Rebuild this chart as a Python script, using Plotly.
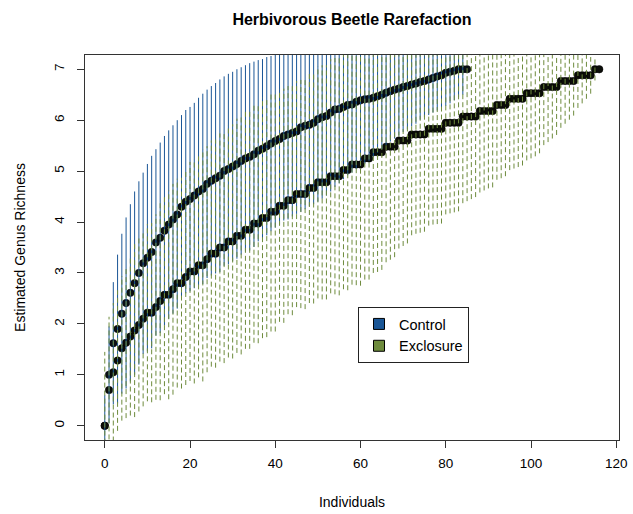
import plotly.graph_objects as go

# ---------------- data ----------------
ctrl_x = list(range(0, 86))
ctrl_y = [0.00, 1.00, 1.62, 1.90, 2.20, 2.41, 2.61, 2.80, 3.00, 3.19,
          3.30, 3.41, 3.60, 3.69, 3.83, 3.95, 4.05, 4.15, 4.30, 4.40,
          4.45, 4.52, 4.60, 4.65, 4.75, 4.81, 4.86, 4.91, 5.00, 5.04,
          5.09, 5.14, 5.20, 5.25, 5.28, 5.33, 5.40, 5.44, 5.49, 5.54,
          5.59, 5.63, 5.69, 5.72, 5.75, 5.78, 5.86, 5.89, 5.91, 5.95,
          6.02, 6.06, 6.08, 6.15, 6.21, 6.22, 6.26, 6.30, 6.31, 6.36,
          6.39, 6.41, 6.42, 6.44, 6.47, 6.50, 6.54, 6.57, 6.60, 6.62,
          6.65, 6.67, 6.70, 6.72, 6.75, 6.77, 6.80, 6.83, 6.86, 6.88,
          6.93, 6.95, 6.97, 7.00, 7.00, 7.00]
ctrl_err = [0.60, 0.95, 1.20, 1.46, 1.57, 1.68, 1.74, 1.80, 1.80, 1.78,
            1.84, 1.89, 1.83, 1.87, 1.86, 1.85, 1.85, 1.85, 1.80, 1.80,
            1.81, 1.82, 1.84, 1.87, 1.85, 1.86, 1.87, 1.89, 1.86, 1.87,
            1.86, 1.86, 1.84, 1.83, 1.84, 1.82, 1.78, 1.76, 1.75, 1.72,
            1.70, 1.68, 1.66, 1.67, 1.64, 1.62, 1.66, 1.64, 1.60, 1.60,
            1.62, 1.60, 1.56, 1.55, 1.52, 1.46, 1.42, 1.38, 1.34, 1.31,
            1.29, 1.27, 1.22, 1.17, 1.11, 1.07, 1.03, 0.99, 0.96, 0.92,
            0.88, 0.85, 0.82, 0.79, 0.74, 0.71, 0.70, 0.68, 0.67, 0.66,
            0.65, 0.62, 0.58, 0.55, 0.50, 0.00]

excl_x = list(range(0, 117))
excl_y = [0.00, 0.70, 1.05, 1.28, 1.52, 1.63, 1.75, 1.87, 1.98, 2.10,
          2.22, 2.22, 2.33, 2.45, 2.57, 2.57, 2.68, 2.80, 2.80, 2.92,
          3.03, 3.03, 3.15, 3.15, 3.27, 3.38, 3.38, 3.50, 3.50, 3.62,
          3.62, 3.73, 3.73, 3.85, 3.85, 3.97, 3.97, 4.08, 4.08, 4.20,
          4.20, 4.32, 4.32, 4.43, 4.43, 4.55, 4.55, 4.55, 4.67, 4.67,
          4.78, 4.78, 4.78, 4.90, 4.90, 4.90, 5.02, 5.02, 5.13, 5.13,
          5.13, 5.25, 5.25, 5.37, 5.37, 5.37, 5.48, 5.48, 5.48, 5.60,
          5.60, 5.60, 5.72, 5.72, 5.72, 5.72, 5.83, 5.83, 5.83, 5.83,
          5.95, 5.95, 5.95, 5.95, 6.07, 6.07, 6.07, 6.07, 6.18, 6.18,
          6.18, 6.18, 6.30, 6.30, 6.30, 6.42, 6.42, 6.42, 6.42, 6.53,
          6.53, 6.53, 6.53, 6.65, 6.65, 6.65, 6.65, 6.77, 6.77, 6.77,
          6.77, 6.88, 6.88, 6.88, 6.88, 7.00, 7.00]
excl_err = [1.45, 1.44, 1.36, 1.38, 1.42, 1.48, 1.55, 1.70, 1.70, 1.72,
            1.74, 1.76, 1.82, 1.95, 1.95, 2.05, 2.07, 2.05, 2.07, 2.12,
            2.15, 2.20, 2.20, 2.28, 2.22, 2.22, 2.24, 2.24, 2.27, 2.28,
            2.30, 2.30, 2.33, 2.34, 2.34, 2.34, 2.35, 2.36, 2.34, 2.35,
            2.35, 2.28, 2.30, 2.24, 2.26, 2.22, 2.24, 2.26, 2.26, 2.27,
            2.28, 2.30, 2.30, 2.30, 2.32, 2.34, 2.34, 2.36, 2.36, 2.37,
            2.38, 2.38, 2.38, 2.37, 2.35, 2.31, 2.27, 2.22, 2.17, 2.12,
            2.07, 2.02, 1.98, 1.95, 1.93, 1.91, 1.90, 1.88, 1.87, 1.86,
            1.80, 1.78, 1.76, 1.74, 1.70, 1.66, 1.62, 1.58, 1.60, 1.56,
            1.52, 1.50, 1.47, 1.44, 1.40, 1.40, 1.37, 1.34, 1.31, 1.32,
            1.28, 1.24, 1.18, 1.14, 1.08, 1.01, 0.94, 0.92, 0.84, 0.76,
            0.68, 0.64, 0.55, 0.46, 0.36, 0.22, 0.00]

x_ticks = [0, 20, 40, 60, 80, 100, 120]
y_ticks = [0, 1, 2, 3, 4, 5, 6, 7]
series_names = ["Control", "Exclosure"]
BLUE = "#1a5696"
GREEN = "#6e8b3d"
FONT = "Liberation Sans, Arial, Helvetica, sans-serif"


def bar_path(xs, ys, errs):
    px, py = [], []
    for xv, yv, ev in zip(xs, ys, errs):
        if ev <= 0:
            continue
        px += [xv, xv, None]
        py += [yv - ev, yv + ev, None]
    return px, py


fig = go.Figure()

# points (drawn first, bars over them)
fig.add_trace(go.Scatter(x=ctrl_x, y=ctrl_y, mode="markers", showlegend=False,
                         marker=dict(size=7.5, color="#0a0f14",
                                     line=dict(width=0.5, color="#000"))))
fig.add_trace(go.Scatter(x=excl_x, y=excl_y, mode="markers", showlegend=False,
                         marker=dict(size=7.5, color="#0b0d08",
                                     line=dict(width=0.5, color="#000"))))

cx, cy = bar_path(ctrl_x, ctrl_y, ctrl_err)
fig.add_trace(go.Scatter(x=cx, y=cy, mode="lines", showlegend=False,
                         line=dict(color=BLUE, width=1), hoverinfo="skip"))
ex, ey = bar_path(excl_x, excl_y, excl_err)
fig.add_trace(go.Scatter(x=ex, y=ey, mode="lines", showlegend=False,
                         line=dict(color=GREEN, width=1, dash="5px,3px"),
                         hoverinfo="skip"))

# legend entries
for name, col in zip(series_names, [BLUE, GREEN]):
    fig.add_trace(go.Scatter(x=[None], y=[None], mode="markers", name=name,
                             marker=dict(symbol="square", size=11, color=col,
                                         line=dict(width=1, color="#000"))))

fig.update_layout(
    width=633, height=514,
    margin=dict(l=85, r=14, t=55, b=74),
    paper_bgcolor="white", plot_bgcolor="white",
    font=dict(family=FONT, size=13.5, color="#000"),
    title=dict(text="<b>Herbivorous Beetle Rarefaction</b>",
               x=352 / 633, xanchor="center", y=1 - 19 / 514, yanchor="middle",
               font=dict(size=16, family=FONT, color="#000")),
    showlegend=True,
    legend=dict(x=(358 - 85) / 534, y=(440 - 307) / 385, xanchor="left",
                yanchor="top", bgcolor="white", bordercolor="#222",
                borderwidth=1, font=dict(size=14.5, family=FONT),
                tracegroupgap=0),
)
fig.update_xaxes(range=[-4.64, 120.64], tickvals=x_ticks, showgrid=False,
                 zeroline=False, showline=True, mirror=True, linecolor="#333",
                 linewidth=1, ticks="outside", ticklen=7, tickcolor="#333",
                 ticklabelstandoff=4, automargin=False,
                 title=dict(text="Individuals", standoff=26,
                            font=dict(size=14, family=FONT)))
fig.update_yaxes(range=[-0.28, 7.28], tickvals=y_ticks, showgrid=False,
                 zeroline=False, showline=True, mirror=True, linecolor="#333",
                 linewidth=1, ticks="outside", ticklen=7, tickcolor="#333",
                 tickangle=-90, ticklabelstandoff=8, automargin=False,
                 title=dict(text="Estimated Genus Richness", standoff=22,
                            font=dict(size=14, family=FONT)))

fig.write_html("out.html")
